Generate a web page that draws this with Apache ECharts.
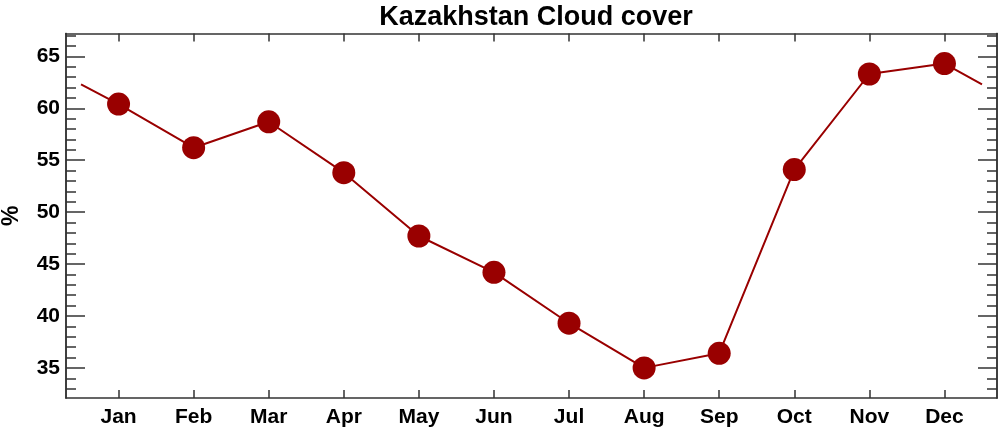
<!DOCTYPE html>
<html><head><meta charset="utf-8">
<script src="https://cdn.jsdelivr.net/npm/echarts@6/dist/echarts.min.js"></script>
<style>html,body{margin:0;padding:0;background:#fff}#c{width:1000px;height:433px}</style>
</head><body><div id="c"></div>
<script>
const months = ['Jan','Feb','Mar','Apr','May','Jun','Jul','Aug','Sep','Oct','Nov','Dec'];
const cloudCover = [60.4, 56.2, 58.7, 53.8, 47.7, 44.2, 39.3, 35.0, 36.4, 54.1, 63.3, 64.3];
const edgeValue = [62.3, 62.3]; // line ends at half-step before Jan and after Dec
const yMajorTicks = [35, 40, 45, 50, 55, 60, 65];
const yMinorTicks = [33,34,35,36,37,38,39,40,41,42,43,44,45,46,47,48,49,50,51,52,53,54,55,56,57,58,59,60,61,62,63,64,65,66,67];

const monthIdx = months.map((m, i) => i);
const markerData = cloudCover.map((v, i) => [i, v]);
const lineData = [[-0.5, edgeValue[0]]].concat(markerData, [[months.length - 0.5, edgeValue[1]]]);

const FONT = 'Liberation Sans, Arial, Helvetica, sans-serif';
const frame = {show: true, onZero: false, lineStyle: {color: '#333', width: 1.5}};
const RED = '#990000';

function yAx(pos, ticks, len, labels) {
  return {
    type: 'value', position: pos, min: 32.1, max: 67.2, offset: 0,
    axisLine: frame, splitLine: {show: false},
    axisTick: {show: true, inside: true, length: len, customValues: ticks, lineStyle: {color: '#333', width: 1.5}},
    axisLabel: labels ? {show: true, customValues: yMajorTicks, fontFamily: FONT, fontWeight: 'bold', fontSize: 21, color: '#000', margin: 6} : {show: false},
    name: labels ? '%' : '', nameLocation: 'middle', nameGap: 43,
    nameTextStyle: {fontFamily: FONT, fontWeight: 'bold', fontSize: 23, color: '#000'}
  };
}
function xAx(pos, labels) {
  return {
    type: 'value', position: pos, min: -0.7, max: 11.7,
    axisLine: frame, splitLine: {show: false},
    axisTick: {show: true, inside: true, length: 8, customValues: monthIdx, lineStyle: {color: '#333', width: 1.5}},
    axisLabel: labels ? {show: true, customValues: monthIdx, formatter: v => months[Math.round(v)], fontFamily: FONT, fontWeight: 'bold', fontSize: 21, color: '#000', margin: 9} : {show: false}
  };
}

const chart = echarts.init(document.getElementById('c'), null, {renderer: 'canvas'});
chart.setOption({
  animation: false,
  backgroundColor: '#fff',
  title: {text: 'Kazakhstan Cloud cover', left: 531, textAlign: 'center', top: -1,
    textStyle: {fontFamily: FONT, fontWeight: 'bold', fontSize: 27, color: '#000'}},
  grid: {left: 66, right: 3, top: 33.5, bottom: 35, containLabel: false, outerBoundsMode: 'none'},
  xAxis: [xAx('bottom', true), xAx('top', false)],
  yAxis: [yAx('left', yMajorTicks, 19, true), yAx('left', yMinorTicks, 10, false),
          yAx('right', yMajorTicks, 19, false), yAx('right', yMinorTicks, 10, false)],
  series: [
    {type: 'line', xAxisIndex: 0, yAxisIndex: 0, data: lineData, symbol: 'none',
     lineStyle: {color: RED, width: 2}, z: 2},
    {type: 'scatter', xAxisIndex: 0, yAxisIndex: 0, data: markerData, symbol: 'circle', symbolSize: 23,
     itemStyle: {color: RED, opacity: 1}, z: 3}
  ]
});
</script></body></html>
